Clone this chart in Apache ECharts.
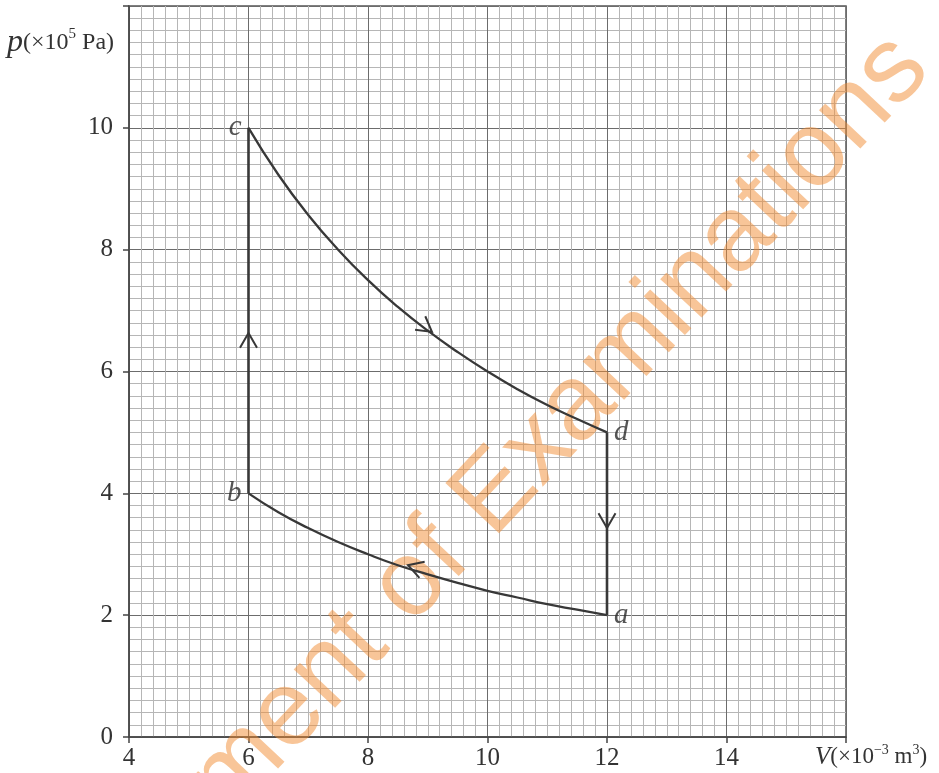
<!DOCTYPE html>
<html>
<head>
<meta charset="utf-8">
<title>p-V cycle</title>
<script src="https://cdn.jsdelivr.net/npm/echarts@6/dist/echarts.min.js"></script>
<style>
  html, body { margin: 0; padding: 0; background: #fff; }
  #chart { width: 939px; height: 773px; }
</style>
</head>
<body>
<div id="chart"></div>
<script>
// axis ranges and tick labels
const xTicks = [4, 6, 8, 10, 12, 14];
const yTicks = [0, 2, 4, 6, 8, 10];

// b -> c (constant volume)
const lineBC = [[6, 4], [6, 10]];
// c -> d curve
const cdV = [6, 6.5, 7, 7.5, 8, 8.5, 9, 9.5, 10, 10.5, 11, 11.5, 12];
const cdP = [10, 9.23, 8.57, 8.0, 7.5, 7.06, 6.67, 6.32, 6.0, 5.71, 5.45, 5.22, 5.0];
// d -> a (constant volume)
const lineDA = [[12, 5], [12, 2]];
// a -> b curve
const abV = [12, 11.5, 11, 10.5, 10, 9.5, 9, 8.5, 8, 7.5, 7, 6.5, 6];
const abP = [2.0, 2.09, 2.18, 2.29, 2.4, 2.53, 2.67, 2.82, 3.0, 3.2, 3.43, 3.69, 4.0];

// corner points
const pointNames = ['c', 'b', 'd', 'a'];
const pointV = [6, 6, 12, 12];
const pointP = [10, 4, 5, 2];

// direction arrows (screen angle in degrees, 0 = right, 90 = down)
const arrowV = [6, 9.07, 12, 8.67];
const arrowP = [6.63, 6.65, 3.43, 2.82];
const arrowAngle = [-90, 37, 90, 198];

const chart = echarts.init(document.getElementById('chart'));

const ink = '#383838';
const serif = '"Liberation Serif", "DejaVu Serif", serif';

// chevron drawn at each arrow position
function renderArrow(params, api) {
  const tip = api.coord([api.value(0), api.value(1)]);
  const ang = api.value(2) * Math.PI / 180 + Math.PI;
  const len = 17;
  const spread = 30 * Math.PI / 180;
  const p1 = [tip[0] + len * Math.cos(ang - spread), tip[1] + len * Math.sin(ang - spread)];
  const p2 = [tip[0] + len * Math.cos(ang + spread), tip[1] + len * Math.sin(ang + spread)];
  return {
    type: 'polyline',
    shape: { points: [p1, tip, p2] },
    style: { stroke: ink, lineWidth: 2, fill: null }
  };
}

const labelPos = { c: 'left', b: 'left', d: 'right', a: 'right' };

const option = {
  backgroundColor: '#fff',
  animation: false,
  grid: {
    left: 129, right: 93, top: 6, bottom: 36,
    show: true, borderColor: '#555', borderWidth: 1.5, backgroundColor: 'transparent'
  },
  xAxis: {
    type: 'value', min: 4, max: 16, interval: 2,
    axisLine: { show: true, onZero: false, lineStyle: { color: '#444', width: 1.5 } },
    axisTick: { show: true, length: 6, lineStyle: { color: '#444', width: 1.5 } },
    axisLabel: {
      margin: 9, color: '#333', fontFamily: serif, fontSize: 25,
      formatter: v => (xTicks.indexOf(v) >= 0 ? String(v) : '')
    },
    splitLine: { show: true, lineStyle: { color: '#6c6c6c', width: 1 } },
    minorTick: { show: false, splitNumber: 10 },
    minorSplitLine: { show: true, lineStyle: { color: '#b6b6b6', width: 1 } }
  },
  yAxis: {
    type: 'value', min: 0, max: 12, interval: 2,
    axisLine: { show: true, onZero: false, lineStyle: { color: '#444', width: 1.5 } },
    axisTick: { show: true, length: 6, lineStyle: { color: '#444', width: 1.5 } },
    axisLabel: {
      margin: 16, color: '#333', fontFamily: serif, fontSize: 25,
      formatter: v => (yTicks.indexOf(v) >= 0 ? String(v) : '')
    },
    splitLine: { show: true, lineStyle: { color: '#6c6c6c', width: 1 } },
    minorTick: { show: false, splitNumber: 10 },
    minorSplitLine: { show: true, lineStyle: { color: '#b6b6b6', width: 1 } }
  },
  graphic: [
    {
      type: 'text', x: 488, y: 580, rotation: 46.8 * Math.PI / 180, z: 1, silent: true,
      style: {
        text: 'Department of Examinations',
        fontFamily: '"Liberation Sans", Arial, sans-serif',
        fontSize: 107,
        fill: 'rgba(242, 140, 50, 0.5)',
        align: 'center',
        verticalAlign: 'bottom'
      }
    },
    {
      type: 'text', left: 7, top: 27, z: 10,
      style: {
        text: '{i|p}{n|(×10}{s|5}{n| Pa)}',
        rich: {
          i: { fontFamily: serif, fontStyle: 'italic', fontSize: 32, fill: '#333', lineHeight: 32 },
          n: { fontFamily: serif, fontSize: 24, fill: '#333', lineHeight: 32 },
          s: { fontFamily: serif, fontSize: 15, fill: '#333', verticalAlign: 'top', lineHeight: 32 }
        }
      }
    },
    {
      type: 'text', left: 815, top: 743, z: 10,
      style: {
        text: '{i|V}{n|(×10}{s|−3}{n| m}{s|3}{n|)}',
        rich: {
          i: { fontFamily: serif, fontStyle: 'italic', fontSize: 25, fill: '#333', lineHeight: 28 },
          n: { fontFamily: serif, fontSize: 23, fill: '#333', lineHeight: 28 },
          s: { fontFamily: serif, fontSize: 14, fill: '#333', verticalAlign: 'top', lineHeight: 28 }
        }
      }
    }
  ],
  series: [
    {
      type: 'line', data: lineBC, symbol: 'none', z: 5,
      lineStyle: { color: ink, width: 2.6 }
    },
    {
      type: 'line', data: cdV.map((v, i) => [v, cdP[i]]), symbol: 'none', smooth: true, z: 5,
      lineStyle: { color: ink, width: 2.3 }
    },
    {
      type: 'line', data: lineDA, symbol: 'none', z: 5,
      lineStyle: { color: ink, width: 2.6 }
    },
    {
      type: 'line', data: abV.map((v, i) => [v, abP[i]]), symbol: 'none', smooth: true, z: 5,
      lineStyle: { color: ink, width: 2.3 }
    },
    {
      type: 'custom', z: 6,
      data: arrowV.map((v, i) => [v, arrowP[i], arrowAngle[i]]),
      renderItem: renderArrow
    },
    {
      type: 'scatter', symbolSize: 0, z: 6,
      data: pointNames.map((n, i) => ({
        name: n,
        value: [pointV[i], pointP[i]],
        label: { position: labelPos[n] }
      })),
      label: {
        show: true, formatter: '{b}', distance: 7,
        fontFamily: serif, fontStyle: 'italic', fontSize: 29, color: '#2a2a2a'
      }
    }
  ]
};

chart.setOption(option);
</script>
</body>
</html>
